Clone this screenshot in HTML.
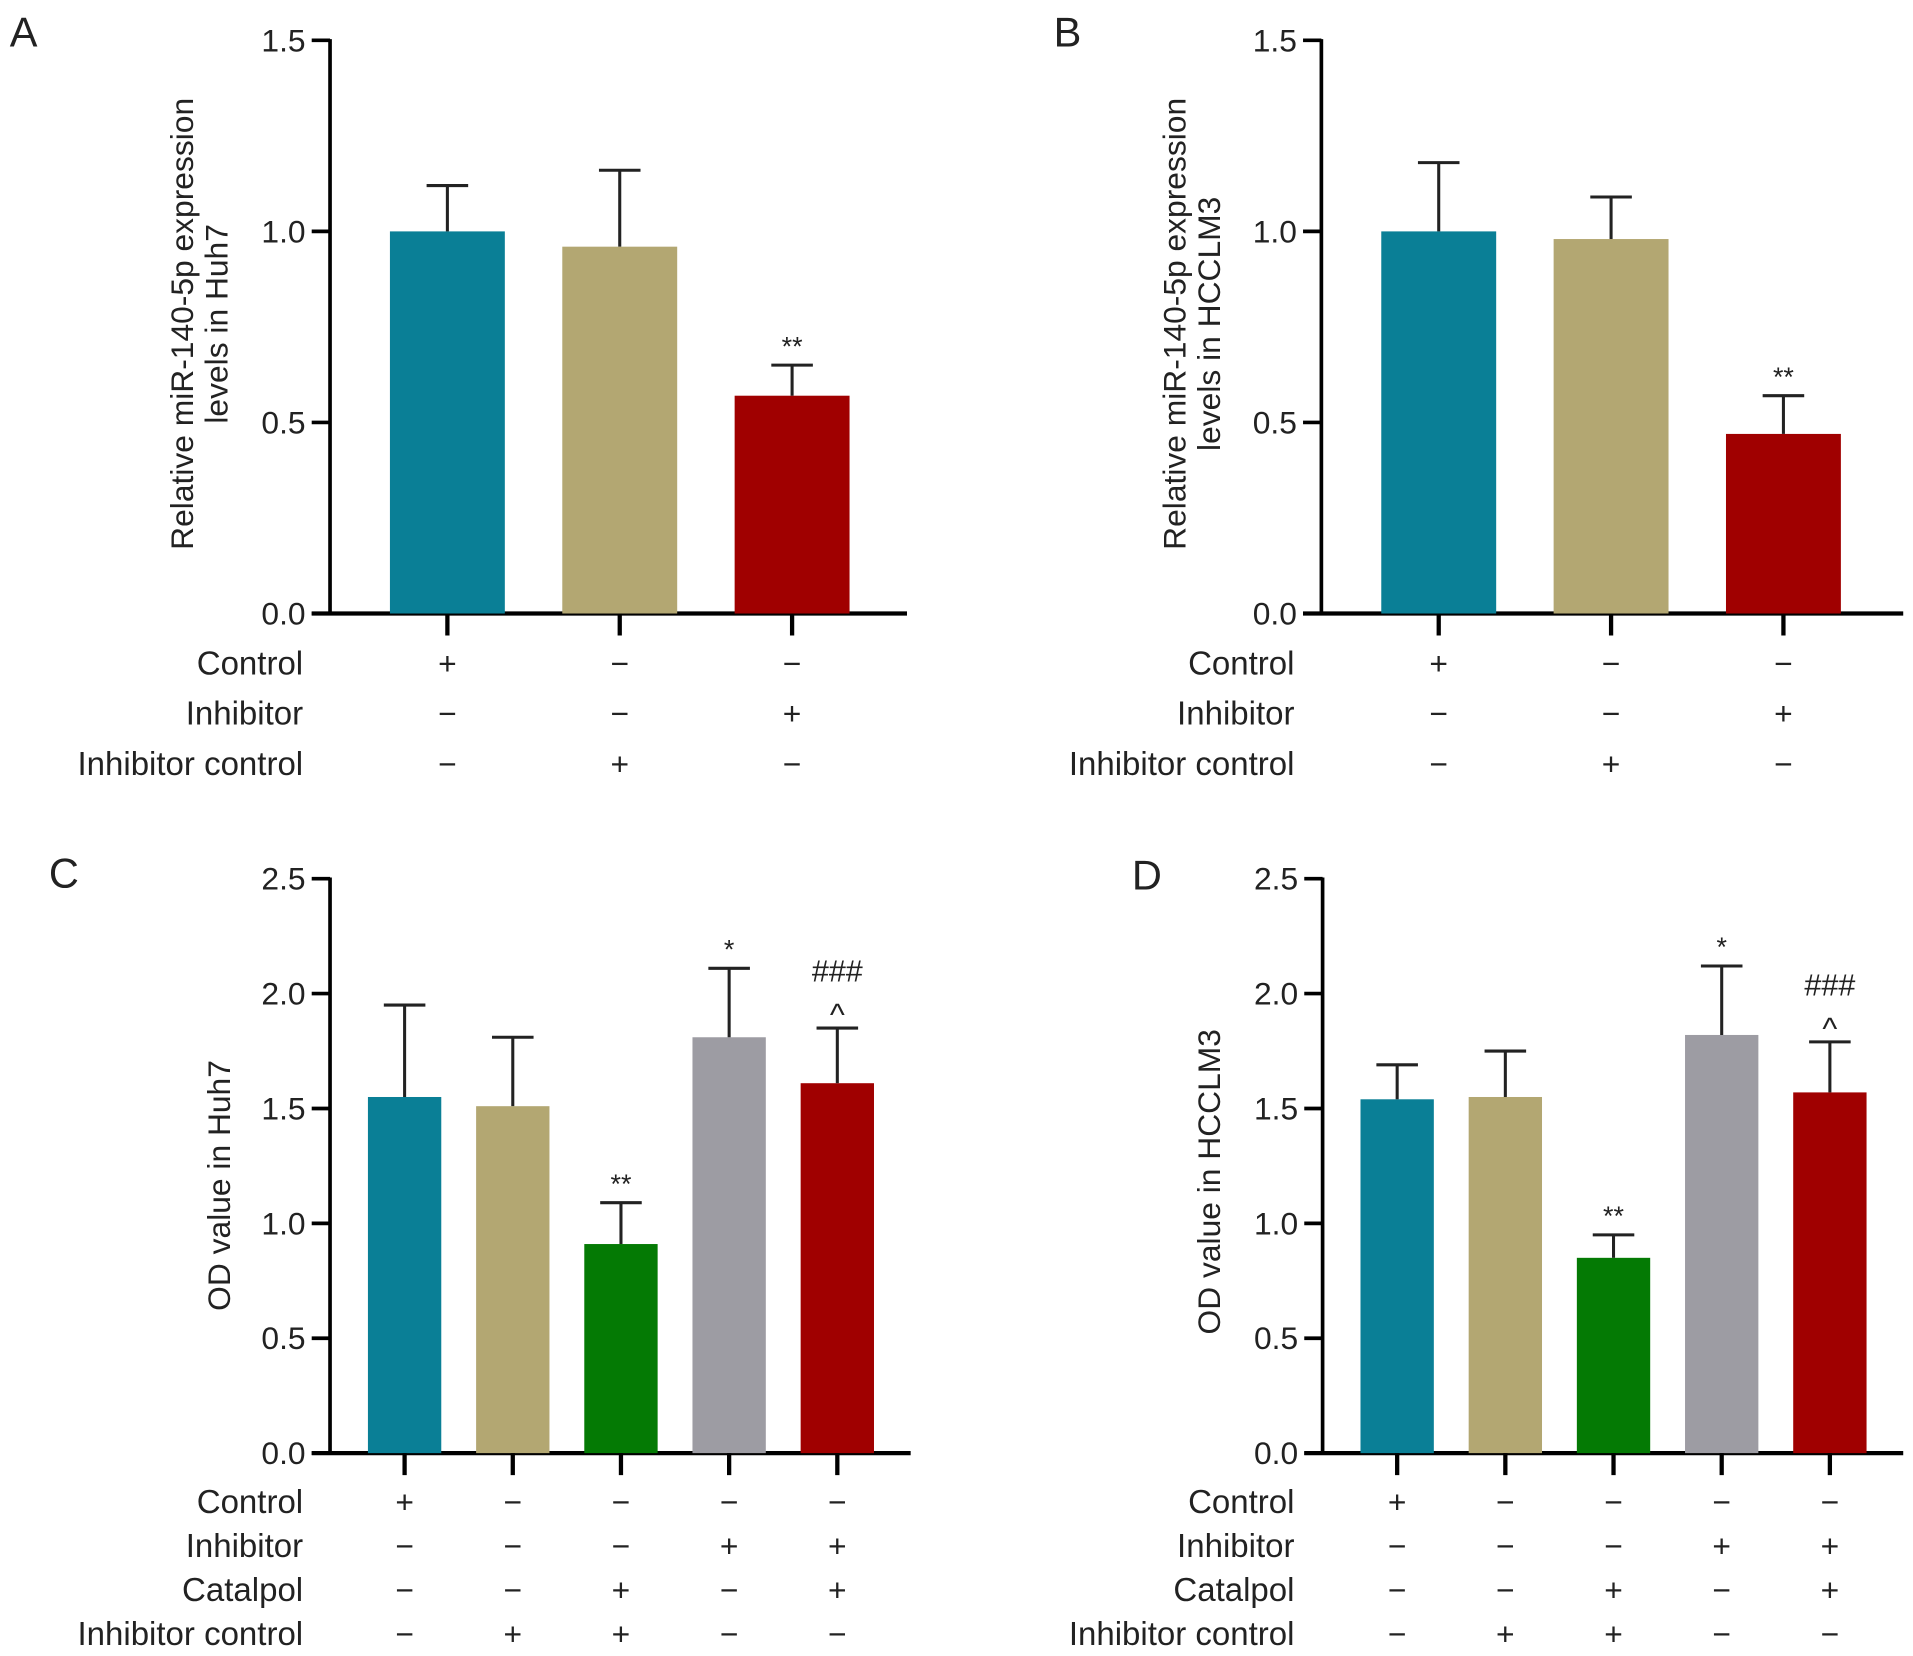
<!DOCTYPE html>
<html><head><meta charset="utf-8"><style>
html,body{margin:0;padding:0;background:#fff;}
svg{display:block;}
text{font-family:"Liberation Sans",sans-serif;fill:#222;}
</style></head>
<body>
<svg id="fig" width="1913" height="1656" viewBox="0 0 1565 1355" preserveAspectRatio="none" xmlns="http://www.w3.org/2000/svg"></svg>
<script>
// Panel A data
const aCats = ["Control","Inhibitor","Inhibitor control"];
const aVals = [1.0, 0.96, 0.57];
const aErrs = [1.12, 1.16, 0.65];
const aSig = ["", "", "**"];
const aSig2 = ["", "", ""];
const aSigns = [["+","−","−"],["−","−","+"],["−","+","−"]];
// Panel B data
const bVals = [1.0, 0.98, 0.47];
const bErrs = [1.18, 1.09, 0.57];
const bSig = ["", "", "**"];
const bSig2 = ["", "", ""];
// Panel C data
const cCats = ["Control","Inhibitor","Catalpol","Inhibitor control"];
const cVals = [1.55, 1.51, 0.91, 1.81, 1.61];
const cErrs = [1.95, 1.81, 1.09, 2.11, 1.85];
const cSig = ["", "", "**", "*", "^"];
const cSig2 = ["", "", "", "", "###"];
const cSigns = [["+","−","−","−","−"],["−","−","−","+","+"],["−","−","+","−","+"],["−","+","+","−","−"]];
// Panel D data
const dVals = [1.54, 1.55, 0.85, 1.82, 1.57];
const dErrs = [1.69, 1.75, 0.95, 2.12, 1.79];
const dSig = ["", "", "**", "*", "^"];
const dSig2 = ["", "", "", "", "###"];
const abTicks = ["0.0","0.5","1.0","1.5"];
const cdTicks = ["0.0","0.5","1.0","1.5","2.0","2.5"];

const NS="http://www.w3.org/2000/svg";
const svg=document.getElementById('fig');
function mk(tag,attrs,parent){const e=document.createElementNS(NS,tag);for(const k in attrs)e.setAttribute(k,attrs[k]);(parent||svg).appendChild(e);return e;}

function panel(o){
  const g=mk('g',{});
  
  
  const ymax=parseFloat(o.ticks[o.ticks.length-1]);
  const y=v=>o.y0-(v/ymax)*(o.y0-o.ytop);
  const L=mk('text',{x:o.lx,y:o.ly,'font-size':34},g);L.textContent=o.letter;
  
  
  const ax=mk('line',{x1:o.ax,y1:o.ytop-1,x2:o.ax,y2:o.y0+1,stroke:'#000','stroke-width':3},g);
  
  
  o.ticks.forEach(t=>{
    const v=parseFloat(t);
    mk('line',{x1:o.ax-15,y1:y(v),x2:o.ax,y2:y(v),stroke:'#000','stroke-width':3},g);
    const tl=mk('text',{x:o.ax-20,y:y(v)+9,'font-size':26,'text-anchor':'end'},g);tl.textContent=t;
    
    
  });
  const xa=mk('line',{x1:o.ax-15,y1:o.y0,x2:o.axEnd,y2:o.y0,stroke:'#000','stroke-width':3.5},g);
  
  
  const tt=mk('text',{transform:`translate(${o.tx},${o.ty}) rotate(-90)`,'font-size':26,'text-anchor':'middle'},g);
  o.title.forEach((ln,i)=>{const ts=mk('tspan',{x:0,dy:i===0?0:28},tt);ts.textContent=ln;});
  
  
  o.vals.forEach((v,i)=>{
    const cx=o.c0+i*o.step;
    const r=mk('rect',{x:cx-o.bw/2,y:y(v),width:o.bw,height:o.y0-y(v),fill:o.colors[i]},g);
    
    
    const e=o.errs[i];
    mk('line',{x1:cx,y1:y(v),x2:cx,y2:y(e),stroke:'#222','stroke-width':2.5},g);
    mk('line',{x1:cx-17,y1:y(e),x2:cx+17,y2:y(e),stroke:'#222','stroke-width':2.5},g);
    mk('line',{x1:cx,y1:o.y0,x2:cx,y2:o.y0+18,stroke:'#000','stroke-width':3.5},g);
    if(o.sig[i]){
      const isCaret=o.sig[i]==='^';
      const s=mk('text',{x:cx,y:y(e)-(isCaret?-4:8),'font-size':isCaret?26:22,'text-anchor':'middle'},g);s.textContent=o.sig[i];
      if(isCaret) s.setAttribute('y', y(e)-2);
      
      
    }
    if(o.sig2[i]){
      const s=mk('text',{x:cx,y:y(e)-38,'font-size':25,'text-anchor':'middle'},g);s.textContent=o.sig2[i];
      
      
    }
  });
  o.cats.forEach((c,r)=>{
    const yy=o.row0+r*o.rowStep;
    const t=mk('text',{x:o.labX,y:yy+9,'font-size':27,'text-anchor':'end'},g);t.textContent=c;
    
    
    o.signs[r].forEach((s,i)=>{
      const st=mk('text',{x:o.c0+i*o.step,y:yy+9,'font-size':26,'text-anchor':'middle'},g);st.textContent=s;
      
      
    });
  });
}
const col3=['#0a7f96','#b3a772','#a00000'];
const col5=['#0a7f96','#b3a772','#047a04','#9d9ca3','#a00000'];
panel({letter:'A',lx:8,ly:38,ax:270,axEnd:742,ytop:33,y0:502,ticks:abTicks,vals:aVals,errs:aErrs,sig:aSig,sig2:aSig2,
  c0:366,step:141,bw:94,colors:col3,title:['Relative miR-140-5p expression','levels in Huh7'],tx:158,ty:265,
  cats:aCats,signs:aSigns,row0:543,rowStep:41,labX:248});
panel({letter:'B',lx:862,ly:38,ax:1081,axEnd:1557,ytop:33,y0:502,ticks:abTicks,vals:bVals,errs:bErrs,sig:bSig,sig2:bSig2,
  c0:1177,step:141,bw:94,colors:col3,title:['Relative miR-140-5p expression','levels in HCCLM3'],tx:970,ty:265,
  cats:aCats,signs:aSigns,row0:543,rowStep:41,labX:1059});
panel({letter:'C',lx:40,ly:726,ax:270,axEnd:745,ytop:719,y0:1189,ticks:cdTicks,vals:cVals,errs:cErrs,sig:cSig,sig2:cSig2,
  c0:331,step:88.5,bw:60,colors:col5,title:['OD value in Huh7'],tx:188,ty:970,
  cats:cCats,signs:cSigns,row0:1229,rowStep:36,labX:248});
panel({letter:'D',lx:926,ly:728,ax:1082,axEnd:1557,ytop:719,y0:1189,ticks:cdTicks,vals:dVals,errs:dErrs,sig:dSig,sig2:dSig2,
  c0:1143,step:88.5,bw:60,colors:col5,title:['OD value in HCCLM3'],tx:998,ty:967,
  cats:cCats,signs:cSigns,row0:1229,rowStep:36,labX:1059});
</script>
</body></html>
